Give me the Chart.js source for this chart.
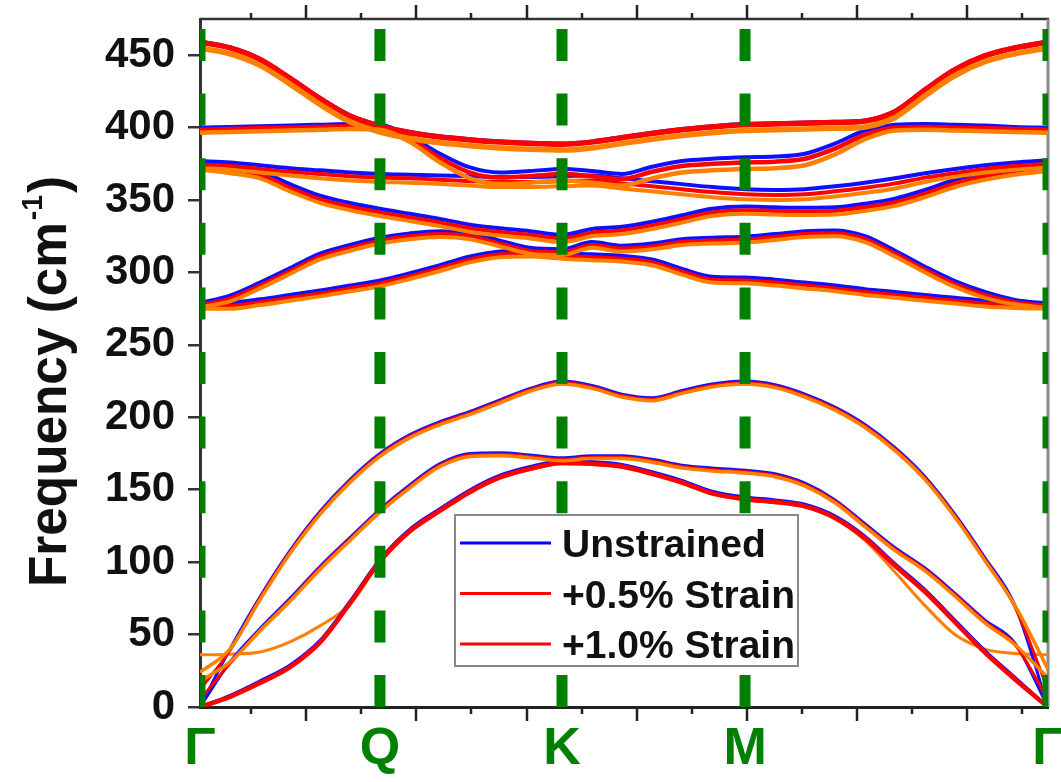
<!DOCTYPE html>
<html>
<head>
<meta charset="utf-8">
<script src="https://cdn.jsdelivr.net/npm/chart.js@4.4.1/dist/chart.umd.min.js"></script>
<style>
  html, body { margin: 0; padding: 0; background: #fff; }
  #chart { display: block; }
</style>
</head>
<body>
<canvas id="chart" width="1061" height="782"></canvas>
<script>
// k-path sample positions (path units) and the high-symmetry points
const K_PATH = [0, 0.272, 0.544, 0.817, 1.089, 1.361, 1.633, 1.906, 2.178, 2.450, 2.722, 2.995, 3.285, 3.557, 3.829,
  4.102, 4.374, 4.646, 4.946, 5.218, 5.490, 5.762, 6.034, 6.307, 6.579, 6.851, 7.123, 7.396, 7.695];
const SYM_POS = [0, 1.633, 3.285, 4.946, 7.695];
const SYM_LABELS = ['Γ', 'Q', 'K', 'M', 'Γ'];
const Y_TICKS = [0, 50, 100, 150, 200, 250, 300, 350, 400, 450];
const X_MINOR_TICKS = [0.463, 1.463, 2.463, 3.463, 4.463, 5.463, 6.463, 7.463];
const X_MAJOR_TICKS = [0.963, 1.963, 2.963, 3.963, 4.963, 5.963, 6.963];
const LEGEND_LABELS = ['Unstrained', '+0.5% Strain', '+1.0% Strain'];
const LEGEND_COLORS = ['#0000ff', '#ff0000', '#ff0000'];

// phonon branches, cm^-1 : _0 unstrained, _05 +0.5 %, _10 +1.0 %
const A2_0 = [459.5, 455.5, 447.5, 434.5, 420.5, 408.5, 401.5, 397, 394, 392, 390.5, 389.5, 389, 390.5, 393.5, 396.5, 399, 401, 402.5, 403, 403.5, 404, 405, 411.5, 426.5, 440.5, 450, 455.5, 459.5];
const A2_05 = [459, 455, 447, 434, 420, 408, 401, 396.5, 393.5, 391.5, 390, 389, 388.5, 390, 393, 396, 398.5, 400.5, 402, 402.5, 403, 403.5, 404.5, 411, 426, 440, 449.5, 455, 459];
const A2_10 = [455, 451, 443, 430, 416, 404, 397, 392.5, 389.5, 387.5, 386, 385, 384.5, 386, 389, 392, 394.5, 396.5, 398, 398.5, 399, 399.5, 400.5, 407, 422, 436, 445.5, 451, 455];

const A1_0 = [400, 400.5, 401, 401.5, 402, 402.5, 402, 394, 382, 372.5, 369, 370, 371.5, 370, 368, 373, 377, 378.5, 379.5, 380, 382, 389, 398, 402, 402.5, 402, 401.5, 400.5, 400];
const A1_05 = [398.5, 399, 399.5, 400, 400.5, 401, 400.5, 392, 379, 369, 365.5, 366.5, 368, 366.5, 364.5, 369.5, 373.5, 375, 376, 376.5, 378.5, 385.5, 395, 400, 400.5, 400, 399.5, 399, 398.5];
const A1_10 = [396.5, 397, 397.5, 398, 398.5, 399, 398.5, 390, 376, 365, 361, 362, 363.5, 362, 360, 365, 369, 370.5, 371.5, 372, 374, 381.5, 392, 398, 398.5, 398, 397.5, 397, 396.5];

const E1U_0 = [377, 376, 374, 372, 370.5, 369, 368, 367.5, 367, 366.5, 366, 366, 366.5, 367, 365, 363, 361, 359, 357.5, 357, 357.5, 359.5, 362, 365, 368.5, 371.5, 374, 376, 377.5];
const E1U_05 = [374.5, 373.5, 371.5, 369.5, 368, 366.5, 365.5, 365, 364, 363, 362.5, 362.5, 363, 363.5, 361.5, 359.5, 357.5, 355.5, 354, 353.5, 354, 356, 358.5, 361.5, 365.5, 368.5, 371.5, 373.5, 375];
const E1U_10 = [372, 371, 369, 367, 365, 363.5, 362.5, 362, 361, 360, 359, 359, 359.5, 360, 358, 356, 354, 352, 350.5, 350, 350.5, 352.5, 355, 358, 362.5, 366, 369, 371, 372.5];

const E1L_0 = [376, 373.5, 370, 361, 353, 348, 344, 340.5, 337, 333, 330.5, 328.5, 326, 330, 331.5, 335, 339.5, 344, 345.5, 345, 344.7, 345, 347.5, 351, 357, 364, 369, 372.5, 375];
const E1L_05 = [373.5, 371, 367.5, 358.5, 350.5, 345.5, 341.5, 338, 334.5, 330.5, 328, 326, 323.5, 327.5, 329, 332.5, 337, 341.5, 343, 342.5, 342, 342.5, 345, 348.5, 354.5, 361.5, 366.5, 370, 372.5];
const E1L_10 = [371, 368.5, 365, 356, 348, 343, 339, 335.5, 332, 328, 325.5, 323.5, 321, 325, 326.5, 330, 334.5, 339, 340.5, 340, 339.7, 340, 342.5, 346, 352, 359, 364, 367.5, 370];

const E2U_0 = [279, 284, 293, 303, 313, 319, 324, 327, 328.5, 327, 322, 317, 316, 321, 318.5, 320, 323, 324, 324.7, 326.5, 328.5, 329, 325, 315, 304, 294, 286.5, 281, 278.5];
const E2U_05 = [277.5, 282, 291, 301, 311, 317, 322, 325, 326.5, 325, 320, 315, 314, 319, 316.5, 318, 321, 322, 322.7, 324.5, 326.5, 327, 323, 313, 302, 292, 284.5, 279.5, 277];
const E2U_10 = [276, 280, 289, 299, 309, 315, 320, 323, 324.5, 323, 318, 313, 312, 317, 314.5, 316, 319, 320, 320.7, 322.5, 324.5, 325, 321, 311, 300, 290, 282.5, 278, 275.5];

const E2L_0 = [278, 279, 281.5, 284.5, 287.5, 291, 294.5, 299.5, 305, 311, 314.5, 315, 313.5, 312.5, 311.5, 309, 302.5, 297, 296.5, 295, 293, 291, 288.5, 286.5, 284.5, 282.5, 280.5, 279, 278];
const E2L_05 = [276.5, 277, 279.5, 282.5, 285.5, 289, 292.5, 297.5, 303, 309, 312.5, 313, 311.5, 310.5, 309.5, 307, 300.5, 295, 294.5, 293, 291, 289, 286.5, 284.5, 282.5, 280.5, 278.5, 277, 276.5];
const E2L_10 = [275, 275, 277.5, 280.5, 283.5, 287, 290.5, 295.5, 301, 307, 310.5, 311, 309.5, 308.5, 307.5, 305, 298.5, 293, 292.5, 291, 289, 287, 284.5, 282.5, 280.5, 278.5, 276.5, 275.5, 275];

const LA_0 = [0, 40, 76, 108, 135, 157, 175, 188, 197, 204, 212, 220, 225, 222, 216, 213.5, 218.5, 223, 225, 222.5, 216, 207, 195, 179, 159, 133, 103, 70, 0];
const LA_05 = [12, 39, 75, 107, 134, 156, 174, 187, 196, 203, 211, 219, 224, 221, 215, 212.5, 217.5, 222, 224, 221.5, 215, 206, 194, 178, 158, 132, 102, 69, 12];
const LA_10 = [24, 40, 74, 106, 133, 155, 173, 186, 195, 202, 210, 218, 223, 220, 214, 211.5, 216.5, 221, 223, 220.5, 214, 205, 193, 177, 157, 131, 101, 70, 26];

const TA_0 = [0, 31, 54, 75, 97, 117, 136.5, 153.5, 168, 175, 175.5, 174, 172, 173.5, 173.5, 171, 167, 165, 163.5, 161, 154.5, 143, 126.5, 110, 96, 78.5, 60, 44, 0];
const TA_05 = [5, 30, 53, 74, 96, 116, 135.5, 152.5, 167, 174, 174.5, 173, 171, 172.5, 172.5, 170, 166, 164, 162.5, 160, 153.5, 142, 125.5, 109, 95, 77.5, 59, 43, 5];
const TA_10 = [18, 31, 52.5, 73, 95, 115, 134.5, 151.5, 166, 173, 173.5, 172, 170, 171.5, 171.5, 169, 165, 163, 161.5, 159, 152.5, 141, 124.5, 108, 94, 76.5, 58, 43, 20];

const ZA_0 = [0, 8, 18, 29, 46, 73, 102, 123, 137, 150, 160, 166, 170, 169.5, 167.5, 162.5, 156.5, 149, 145, 143, 140, 132, 118, 99, 81, 60, 39, 20.5, 0];
const ZA_05 = [0, 7, 16.5, 27.5, 44.5, 71.5, 100.5, 121.5, 135.5, 148.5, 158.5, 164.5, 168.5, 168, 166, 161, 155, 147.5, 143.5, 141.5, 138.5, 130.5, 116.5, 97.5, 79.5, 58.5, 37.5, 19, 0];
const ZA_10 = [36, 36.5, 38, 45, 56, 71, 100, 121, 135, 148, 158, 164, 168, 167.5, 165.5, 160.5, 154.5, 147, 143, 141, 138, 130, 115, 93, 70, 50, 40, 37, 36];

const STRAIN_COLORS = ['#1010ff', '#ff0000', '#ff8000'];
const FONT = '"Liberation Sans", Arial, Helvetica, sans-serif';
const GREEN = '#008000';

const BANDS = [
  { series: [A2_0, A2_05, A2_10], widths: [4, 5.5, 5.5] },
  { series: [A1_0, A1_05, A1_10], widths: [4, 4.5, 4.5] },
  { series: [E1U_0, E1U_05, E1U_10], widths: [4, 4, 4] },
  { series: [E1L_0, E1L_05, E1L_10], widths: [4, 4, 4] },
  { series: [E2U_0, E2U_05, E2U_10], widths: [4, 4, 4] },
  { series: [E2L_0, E2L_05, E2L_10], widths: [4, 4, 4] },
  { series: [LA_0, LA_05, LA_10], widths: [3, 3, 3.5] },
  { series: [TA_0, TA_05, TA_10], widths: [3, 3, 3.5] },
  // the strained ZA line sits under the red one
  { series: [ZA_0, ZA_05, ZA_10], widths: [3, 4.5, 3], orders: [3, 2, 4] }
];

function toPoints(arr) { return K_PATH.map((k, i) => ({ x: k, y: arr[i] })); }

function buildDatasets() {
  const out = [];
  for (const p of SYM_POS) {
    out.push({ data: [{ x: p, y: 0 }, { x: p, y: 475 }], borderColor: GREEN, borderWidth: 11,
      borderDash: [32, 32.6], order: 0 });
  }
  for (const b of BANDS) {
    b.series.forEach((arr, s) => out.push({
      data: toPoints(arr), borderColor: STRAIN_COLORS[s], borderWidth: b.widths[s],
      cubicInterpolationMode: 'monotone', order: b.orders ? b.orders[s] : 3 - s
    }));
  }
  return out;
}

// top/right frame lines and the x tick marks
const framePlugin = {
  id: 'frame',
  beforeDatasetsDraw(chart) {
    const { ctx, chartArea: ca } = chart;
    const xs = chart.scales.x;
    ctx.save();
    ctx.strokeStyle = '#333'; ctx.lineWidth = 2.5;
    ctx.beginPath(); ctx.moveTo(ca.left, ca.top); ctx.lineTo(ca.right + 1, ca.top); ctx.stroke();
    ctx.strokeStyle = '#888'; ctx.lineWidth = 3;
    ctx.beginPath(); ctx.moveTo(ca.right, ca.top); ctx.lineTo(ca.right, ca.bottom); ctx.stroke();
    ctx.strokeStyle = '#222'; ctx.lineWidth = 2.5;
    [[X_MINOR_TICKS, 7, 6], [X_MAJOR_TICKS, 14, 14]].forEach(([vals, down, up]) => {
      for (const v of vals) {
        const px = Math.round(xs.getPixelForValue(v));
        ctx.beginPath();
        ctx.moveTo(px, ca.bottom); ctx.lineTo(px, ca.bottom + down);
        ctx.moveTo(px, ca.top); ctx.lineTo(px, ca.top - up);
        ctx.stroke();
      }
    });
    ctx.restore();
  }
};

const legendPlugin = {
  id: 'strainLegend',
  afterDatasetsDraw(chart) {
    const { ctx, chartArea: ca } = chart;
    const left = ca.left + 255, top = ca.top + 496, w = 343, h = 151;
    ctx.save();
    ctx.fillStyle = '#fff'; ctx.fillRect(left, top, w, h);
    ctx.strokeStyle = '#888'; ctx.lineWidth = 2; ctx.strokeRect(left, top, w, h);
    ctx.font = 'bold 39px ' + FONT;
    ctx.textBaseline = 'alphabetic';
    LEGEND_LABELS.forEach((label, i) => {
      const y = top + 28 + i * 50.5;
      ctx.strokeStyle = LEGEND_COLORS[i]; ctx.lineWidth = 3;
      ctx.beginPath(); ctx.moveTo(left + 5, y); ctx.lineTo(left + 96, y); ctx.stroke();
      ctx.fillStyle = '#111';
      ctx.fillText(label, left + 107, y + 14);
    });
    ctx.restore();
  }
};

const yTitlePlugin = {
  id: 'yTitle',
  afterDraw(chart) {
    const ctx = chart.ctx;
    ctx.save();
    ctx.translate(66, 587);
    ctx.rotate(-Math.PI / 2);
    ctx.scale(0.95, 1);
    ctx.fillStyle = '#111';
    ctx.textBaseline = 'alphabetic';
    ctx.font = 'bold 54px ' + FONT;
    const main = 'Frequency (cm';
    ctx.fillText(main, 0, 0);
    let x = ctx.measureText(main).width;
    ctx.font = 'bold 30px ' + FONT;
    ctx.fillText('-1', x + 2, -24);
    x += ctx.measureText('-1').width + 4;
    ctx.font = 'bold 54px ' + FONT;
    ctx.fillText(')', x, 0);
    ctx.restore();
  }
};

new Chart(document.getElementById('chart'), {
  type: 'line',
  data: { datasets: buildDatasets() },
  options: {
    responsive: false,
    animation: false,
    devicePixelRatio: 1,
    layout: { padding: { top: 19, right: 13, left: 0, bottom: 0 } },
    elements: { point: { radius: 0 }, line: { borderJoinStyle: 'round' } },
    plugins: { legend: { display: false }, tooltip: { enabled: false } },
    scales: {
      x: {
        type: 'linear', min: 0, max: 7.695,
        afterBuildTicks: s => { s.ticks = SYM_POS.map(v => ({ value: v })); },
        afterFit: s => { s.height = 75; s.paddingLeft = 0; s.paddingRight = 0; },
        grid: { display: true, drawOnChartArea: false, drawTicks: false },
        border: { display: true, color: '#222', width: 3 },
        ticks: {
          autoSkip: false, maxRotation: 0, padding: 11, color: GREEN,
          font: { family: FONT, size: 52, weight: 'bold' },
          callback: (v, i) => SYM_LABELS[i]
        }
      },
      y: {
        min: 0, max: 475,
        afterBuildTicks: s => { s.ticks = Y_TICKS.map(v => ({ value: v })); },
        afterFit: s => { s.width = 200; s.paddingTop = 0; s.paddingBottom = 0; },
        grid: { drawOnChartArea: false, drawTicks: true, tickLength: 12, color: '#333', lineWidth: 2.5 },
        border: { display: true, color: '#333', width: 3 },
        ticks: { padding: 13, color: '#111', font: { family: FONT, size: 42, weight: 'bold' } }
      }
    }
  },
  plugins: [framePlugin, legendPlugin, yTitlePlugin]
});
</script>
</body>
</html>
